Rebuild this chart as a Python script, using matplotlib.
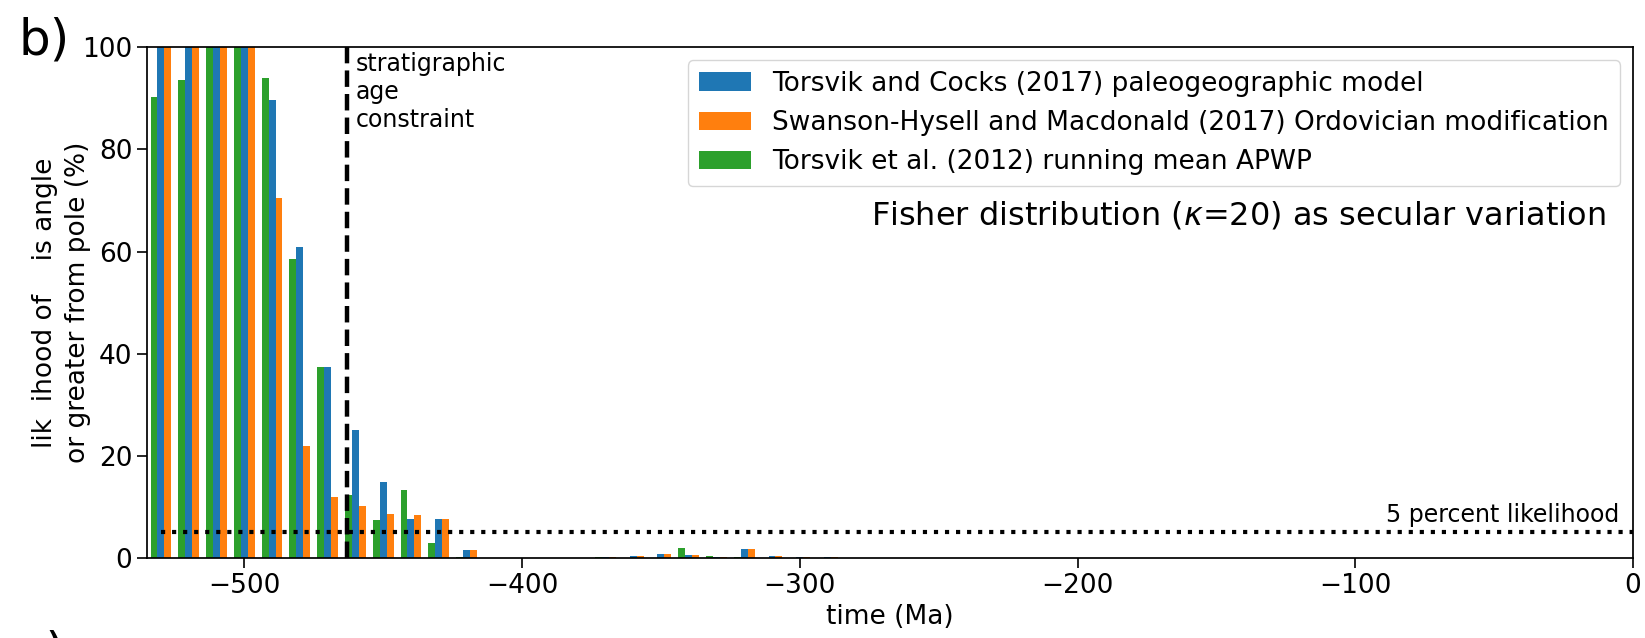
"""
Likelihood that the pole is at a given angle or greater, versus time,
for three apparent polar wander models.
"""

import numpy as np
import matplotlib
matplotlib.use("Agg")
import matplotlib.pyplot as plt

# time bins (Ma, negative = before present)
ages = [-530, -520, -510, -500, -490, -480, -470, -460, -450, -440, -430,
        -420, -410, -400, -390, -380, -370, -360, -350, -340, -330, -320,
        -310, -300, -290]

# likelihood (%) for each model
torsvik_cocks_2017 = [100, 100, 100, 100, 89.7, 60.8, 37.4, 25.0, 14.8, 7.6,
                      7.6, 1.6, 0, 0, 0, 0, 0.1, 0.4, 0.8, 0.6, 0.2, 1.8,
                      0.4, 0.15, 0.15]
swanson_hysell_2017 = [100, 100, 100, 100, 70.5, 21.9, 12.0, 10.2, 8.7, 8.5,
                       7.7, 1.6, 0, 0, 0, 0, 0.1, 0.4, 0.8, 0.6, 0.2, 1.8,
                       0.4, 0.15, 0.15]
torsvik_2012 = [90.2, 93.6, 100, 100, 94.0, 58.6, 37.4, 12.3, 7.5, 13.4, 2.9,
                0.15, 0, 0, 0, 0, 0.1, 0, 0, 2.0, 0.4, 0.2, 0, 0, 0]

labels = ["Torsvik and Cocks (2017) paleogeographic model",
          "Swanson-Hysell and Macdonald (2017) Ordovician modification",
          "Torsvik et al. (2012) running mean APWP"]

strat_age = -463
threshold = 5

width = 2.5

fig = plt.figure(figsize=(16.45, 6.38), dpi=100)
ax = fig.add_axes([0.0894, 0.1254, 0.9033, 0.8006])

t = np.array(ages)
ax.bar(t, torsvik_cocks_2017, width, color='C0', label=labels[0])
ax.bar(t + width, swanson_hysell_2017, width, color='C1', label=labels[1])
ax.bar(t - width, torsvik_2012, width, color='C2', label=labels[2])

ax.axvline(strat_age, color='k', linestyle='--', linewidth=3.2)
ax.text(strat_age + 3, 99, 'stratigraphic\nage\nconstraint',
        ha='left', va='top', fontsize=17)

ax.hlines(threshold, -530, 0, colors='k', linestyles=':', linewidth=3)
ax.text(-5, threshold + 1, '5 percent likelihood', ha='right', va='bottom',
        fontsize=17)

ax.text(-10, 67, r'Fisher distribution ($\kappa$=20) as secular variation',
        ha='right', va='center', fontsize=23)

ax.set_xlim(-535, 0)
ax.set_ylim(0, 100)
ax.set_xlabel('time (Ma)', fontsize=19)
ax.set_ylabel('lik  ihood of    is angle\nor greater from pole (%)',
              fontsize=19, labelpad=-6, linespacing=1.35)
ax.tick_params(labelsize=19, length=7, width=1.2)
for spine in ax.spines.values():
    spine.set_linewidth(1.25)

ax.legend(loc='upper right', fontsize=19)

fig.text(0.011, 0.914, 'b)', fontsize=36, va='baseline')
fig.text(0.011, -0.047, 'c)', fontsize=36, va='baseline')

fig.savefig('out.png', dpi=100)
